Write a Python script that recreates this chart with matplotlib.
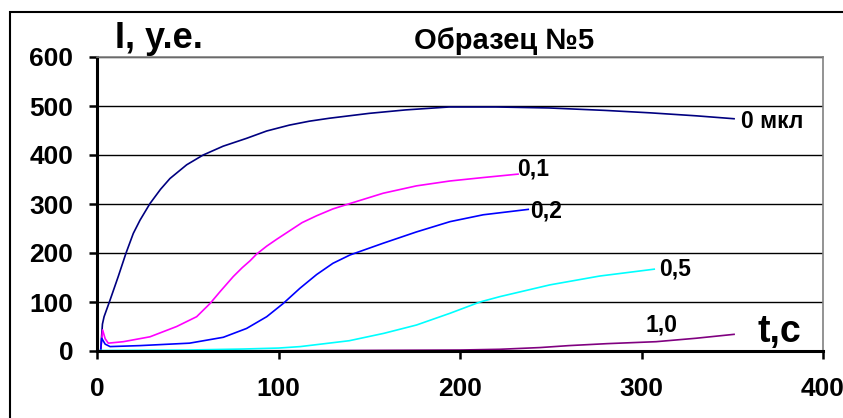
import numpy as np
import matplotlib.pyplot as plt
from matplotlib.patches import Rectangle

plt.rcParams['font.family'] = ['Liberation Sans', 'DejaVu Sans']

# kinetics curves, sample No.5 (t in s, I in arb. units)
t0 = [2, 3, 3.9, 7.2, 11.7, 16, 20, 23.7, 29.2, 35, 40.2, 49.4, 58.5, 69.5, 82.4, 93.5, 106, 117,
      128, 150, 170, 194, 220, 249, 280, 305, 330, 351]
i0 = [0, 55, 70, 104, 152, 200, 240, 267, 301, 330, 352, 380, 400, 418, 434, 449, 461, 469,
      475, 485, 492, 498, 498, 496, 491, 486, 480, 474]

t1 = [2, 3.1, 4.5, 6.2, 14.5, 29.2, 43.9, 54.9, 62.3, 68, 75.1, 80, 84.3, 88, 93.5, 99, 106, 113,
      121, 130, 139.4, 157.7, 176, 194.5, 212.8, 232]
i1 = [0, 43, 25, 16, 19, 29, 50, 70, 97, 122, 152, 170, 184, 198, 214, 228, 245, 262,
      276, 290, 301, 322, 337, 347, 354, 361]

t2 = [2, 2.6, 4.5, 7.2, 23.7, 51, 69.6, 82.4, 93.5, 102.6, 111.8, 121, 130, 139.4, 157.7, 176,
      194.5, 212.8, 237.6]
i2 = [0, 26, 14, 9, 11, 16, 28, 46, 70, 97, 128, 156, 179, 196, 220, 243, 264, 278, 289]

t5 = [2, 50, 80, 100, 112, 139, 158, 176, 194.5, 211, 222, 249.6, 277, 307]
i5 = [1, 2, 4, 6, 9, 21, 36, 53, 77, 100, 111, 135, 153, 167]

t10 = [2, 100, 200, 222, 244, 260, 281, 308, 330, 351]
i10 = [0, 0.5, 2, 3.5, 7, 11, 15, 19, 26, 34]

curves = [(t0, i0, '#000080'), (t1, i1, '#FF00FF'), (t2, i2, '#0000FF'),
          (t5, i5, '#00FFFF'), (t10, i10, '#800080')]

# end labels: text, t, I (baseline)
labels = [('0 мкл', 355, 455), ('0,1', 231.5, 359), ('0,2', 238.6, 273),
          ('0,5', 309.6, 155), ('1,0', 302, 39)]

fig = plt.figure(figsize=(8.43, 4.18), dpi=100)
fig.patches.append(Rectangle((10 / 843, -0.1), 1.2, 1 - 12 / 418 + 0.1, transform=fig.transFigure,
                             fill=False, edgecolor='black', linewidth=1.5))
ax = fig.add_axes([97 / 843, 1 - 351 / 418, (823 - 97) / 843, (351 - 57) / 418])

for t, v, c in curves:
    ax.plot(t, v, color=c, linewidth=1.2)

ax.set_xlim(0, 400)
ax.set_ylim(0, 600)
ax.set_xticks([0, 100, 200, 300, 400])
ax.set_yticks(range(0, 601, 100))
ax.yaxis.grid(True, color='black', linewidth=1)
ax.set_axisbelow(True)
for s in ['top', 'right']:
    ax.spines[s].set_color('#808080')
    ax.spines[s].set_linewidth(1.2)
for s in ['left', 'bottom']:
    ax.spines[s].set_linewidth(2.2)
ax.tick_params(direction='out', length=6, width=1.8, labelsize=19)
ax.tick_params(axis='y', pad=11)
ax.tick_params(axis='x', pad=13)
for lb in ax.get_xticklabels() + ax.get_yticklabels():
    lb.set_fontweight('bold')

for txt, x, y in labels:
    ax.text(x, y, txt, fontsize=16.5, fontweight='bold', va='baseline')

ax.text(364, 19, 't,c', fontsize=27, fontweight='bold', va='baseline')
fig.text(115 / 843, 1 - 48 / 418, 'I, y.e.', fontsize=26, fontweight='bold', va='baseline')
fig.text(414 / 843, 1 - 49 / 418, 'Образец №5', fontsize=21, fontweight='bold', va='baseline')

fig.savefig('out.png', dpi=100)
